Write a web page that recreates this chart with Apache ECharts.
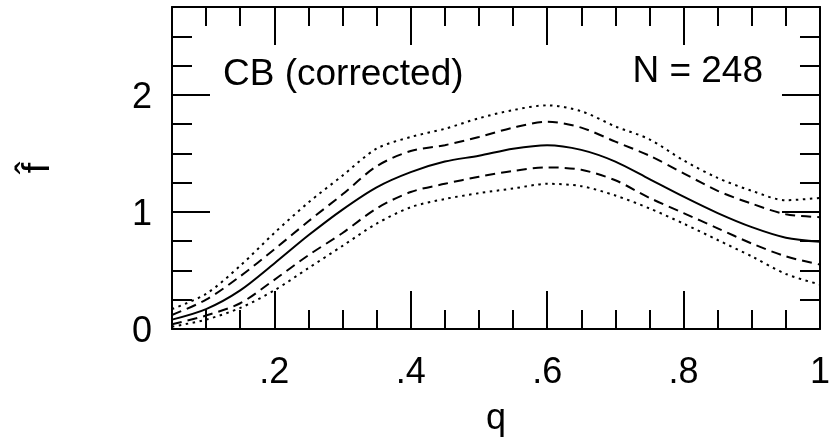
<!DOCTYPE html>
<html>
<head>
<meta charset="utf-8">
<script src="https://cdn.jsdelivr.net/npm/echarts@6/dist/echarts.min.js"></script>
<style>html,body{margin:0;padding:0;background:#fff}#c{width:833px;height:442px}</style>
</head>
<body>
<div id="c"></div>
<script>
var q =          [0.05,0.10,0.15,0.20,0.25,0.30,0.35,0.40,0.45,0.50,0.55,0.60,0.65,0.70,0.75,0.80,0.85,0.90,0.95,1.00];
var fhat =       [0.08,0.17,0.33,0.56,0.80,1.02,1.21,1.34,1.43,1.48,1.54,1.57,1.53,1.43,1.28,1.13,0.99,0.87,0.78,0.745];
var upperDash =  [0.12,0.25,0.45,0.68,0.92,1.15,1.39,1.52,1.57,1.64,1.72,1.77,1.72,1.60,1.48,1.33,1.18,1.07,0.98,0.955];
var lowerDash =  [0.04,0.115,0.22,0.42,0.63,0.82,1.03,1.17,1.24,1.30,1.35,1.38,1.36,1.27,1.12,0.99,0.86,0.73,0.62,0.55];
var upperDot =   [0.17,0.30,0.54,0.82,1.08,1.31,1.54,1.64,1.71,1.80,1.87,1.91,1.86,1.73,1.62,1.44,1.29,1.18,1.10,1.12];
var lowerDot =   [0.02,0.08,0.18,0.33,0.52,0.71,0.90,1.04,1.11,1.16,1.20,1.24,1.22,1.14,1.03,0.90,0.76,0.62,0.47,0.38];
var xMinorTicks = [0.10,0.15,0.25,0.30,0.35,0.45,0.50,0.55,0.65,0.70,0.75,0.85,0.90,0.95];
var xMajorTicks = [0.2,0.4,0.6,0.8];
var xLabels =     [0.2,0.4,0.6,0.8,1];
var yMinorTicks = [0.25,0.5,0.75,1.25,1.5,1.75,2.25,2.5];
var yMajorTicks = [1,2];
var yLabels =     [0,1,2];
var xRange = [0.05, 1];
var yRange = [0, 2.75];
var titleLeft = 'CB (corrected)';
var titleRight = 'N = 248';

function pairs(ys){ return q.map(function(x,i){ return [x, ys[i]]; }); }
var FONT = 'Liberation Sans, Arial, sans-serif';
var black = '#000';
function xAx(pos, ticks, len, labels, showLine, name){
  return {
    type:'value', position:pos, min:xRange[0], max:xRange[1],
    axisLine:{show:showLine, onZero:false, lineStyle:{color:black,width:2}},
    axisTick:{show:true, inside:true, length:len, customValues:ticks, lineStyle:{color:black,width:2}},
    axisLabel:labels ? {show:true, customValues:labels, margin:26, color:black, fontSize:36, fontFamily:FONT,
      formatter:function(v){ return v===1 ? '1' : v.toFixed(1).replace(/^0/,''); }} : {show:false},
    splitLine:{show:false},
    name: name || '', nameLocation:'middle', nameGap:72,
    nameTextStyle:{color:black, fontSize:36, fontFamily:FONT}
  };
}
function yAx(pos, ticks, len, labels, showLine, name){
  return {
    type:'value', position:pos, min:yRange[0], max:yRange[1],
    axisLine:{show:showLine, onZero:false, lineStyle:{color:black,width:2}},
    axisTick:{show:true, inside:true, length:len, customValues:ticks, lineStyle:{color:black,width:2}},
    axisLabel:labels ? {show:true, customValues:labels, margin:20, color:black, fontSize:36, fontFamily:FONT,
      formatter:function(v){ return '{a|' + v + '}'; },
      rich:{a:{fontSize:36, fontFamily:FONT, color:black, padding:[7,0,0,0]}}} : {show:false},
    splitLine:{show:false},
    name: name || '', nameLocation:'middle', nameGap:114, nameRotate:90,
    nameTextStyle:{color:black, fontSize:38, fontFamily:FONT}
  };
}
function line(ys, type){
  return {type:'line', data:pairs(ys), xAxisIndex:0, yAxisIndex:0, smooth:0.3, symbol:'none',
    lineStyle:{color:black, width:2, type:type}, z:1};
}
var chart = echarts.init(document.getElementById('c'), null, {renderer:'canvas'});
chart.setOption({
  animation:false,
  backgroundColor:'#fff',
  grid:{left:172, right:9, top:7, bottom:109, containLabel:false},
  xAxis:[
    xAx('bottom', xMinorTicks, 19, null, true),
    xAx('bottom', xMajorTicks, 38, xLabels, false, 'q'),
    xAx('top', xMinorTicks, 19, null, true),
    xAx('top', xMajorTicks, 38, null, false)
  ],
  yAxis:[
    yAx('left', yMinorTicks, 20, null, true),
    yAx('left', yMajorTicks, 38, yLabels, false, 'f\u0302'),
    yAx('right', yMinorTicks, 20, null, true),
    yAx('right', yMajorTicks, 38, null, false)
  ],
  series:[
    line(upperDot, [2.5,4.5]),
    line(lowerDot, [2.5,4.5]),
    line(upperDash, [10,6]),
    line(lowerDash, [10,6]),
    line(fhat, 'solid')
  ],
  graphic:[
    {type:'text', left:223, top:56, style:{text:titleLeft, fill:black, font:'37px '+FONT}},
    {type:'text', right:70, top:53, style:{text:titleRight, fill:black, font:'37px '+FONT}}
  ]
});
</script>
</body>
</html>
